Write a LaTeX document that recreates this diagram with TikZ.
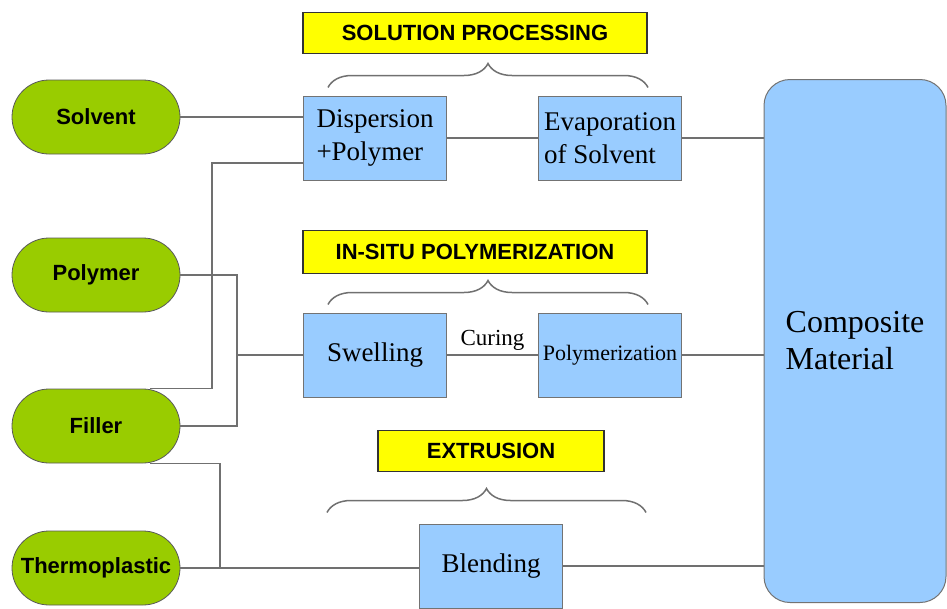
\documentclass[tikz,border=0pt]{standalone}
\usepackage{fontspec}
\setmainfont{Liberation Serif}
\setsansfont{Liberation Sans}
\usepackage{tikz}
\usetikzlibrary{positioning,decorations.pathreplacing}
\definecolor{srcgreen}{HTML}{99CC00}
\definecolor{stepblue}{HTML}{99CCFF}
\definecolor{tagyellow}{HTML}{FFFF00}
\definecolor{linegray}{HTML}{707070}

\begin{document}
\begin{tikzpicture}[
    x=1pt,y=-1pt,
    node distance=91pt and 91pt,
    src/.style={draw=black!65,line width=0.8pt,fill=srcgreen,rounded corners=37pt,
      minimum width=168pt,minimum height=74pt,inner sep=0pt,
      font=\sffamily\bfseries\fontsize{22}{26}\selectfont},
    stepbox/.style={draw=black!55,line width=1pt,fill=stepblue,
      minimum width=143pt,minimum height=84pt,inner sep=2pt,align=left,
      font=\fontsize{27}{33}\selectfont},
    tag/.style={draw=black!80,line width=1.8pt,fill=tagyellow,minimum height=41pt,
      font=\sffamily\bfseries\fontsize{22}{26}\selectfont},
    brace/.style={draw=linegray,line width=1.5pt,decorate,
      decoration={brace,amplitude=24pt}},
    link/.style={draw=linegray,line width=1.3pt}]
    \useasboundingbox (0,0) rectangle (947,608);
    % sources
    \node[src] (solvent) at (96,117) {Solvent};
    \node[src] (polymer) at (96,275) {Polymer};
    \node[src] (filler) at (96,426) {Filler};
    \node[src] (thermo) at (96,568) {Thermoplastic};
    % solution processing
    \node[tag,minimum width=344pt] (solhead) at (475,33) {SOLUTION PROCESSING};
    \node[stepbox] (disp) at (375,138) {Dispersion\\+Polymer};
    \node[stepbox,right=of disp] (evap) {Evaporation\\of Solvent};
    \draw[brace] ([xshift=25pt,yshift=8pt]disp.north west) -- ([xshift=-34pt,yshift=8pt]evap.north east);
    % in-situ polymerization
    \node[tag,minimum width=344pt,minimum height=43pt] (insitu) at (475,252) {IN-SITU POLYMERIZATION};
    \node[stepbox] (swell) at (375,355) {Swelling};
    \node[stepbox,right=of swell,font=\fontsize{22}{26}\selectfont,inner sep=0pt] (poly) {Polymerization};
    \draw[brace] ([xshift=25pt,yshift=8pt]swell.north west) -- ([xshift=-34pt,yshift=8pt]poly.north east);
    % extrusion
    \node[tag,minimum width=226pt] (extr) at (491,451) {EXTRUSION};
    \node[stepbox] (blend) at (491,566) {Blending};
    \draw[brace] ([xshift=-92pt,yshift=11pt]blend.north west) -- ([xshift=83pt,yshift=11pt]blend.north east);
    % result
    \node[draw=black!55,line width=1pt,fill=stepblue,rounded corners=26pt,
      minimum width=182pt,minimum height=523pt,align=left,
      font=\fontsize{32}{37}\selectfont] (comp) at (855,341) {Composite\\Material};
    % joints
    \coordinate (dj) at (212,163);
    \coordinate (pj) at (237,355);
    \coordinate (tj) at (220,568);
    % links
    \draw[link] (solvent.east) -- (solvent.east -| disp.west);
    \draw[link] (dj -| disp.west) -- (dj) |- ([xshift=-30pt]filler.north east);
    \draw[link] (polymer.east) -| (pj) |- (filler.east);
    \draw[link] (pj) -- (swell.west);
    \draw[link] ([xshift=-30pt]filler.south east) -| (tj);
    \draw[link] (thermo.east) -- (thermo.east -| blend.west);
    \draw[link] (disp) -- (evap);
    \draw[link] (swell) -- node[above=4pt,font=\fontsize{23}{26}\selectfont,inner sep=0pt]{Curing} (poly);
    \draw[link] (evap.east) -- (evap.east -| comp.west);
    \draw[link] (poly.east) -- (poly.east -| comp.west);
    \draw[link] (blend.east) -- (blend.east -| comp.west);
  \end{tikzpicture}
\end{document}
